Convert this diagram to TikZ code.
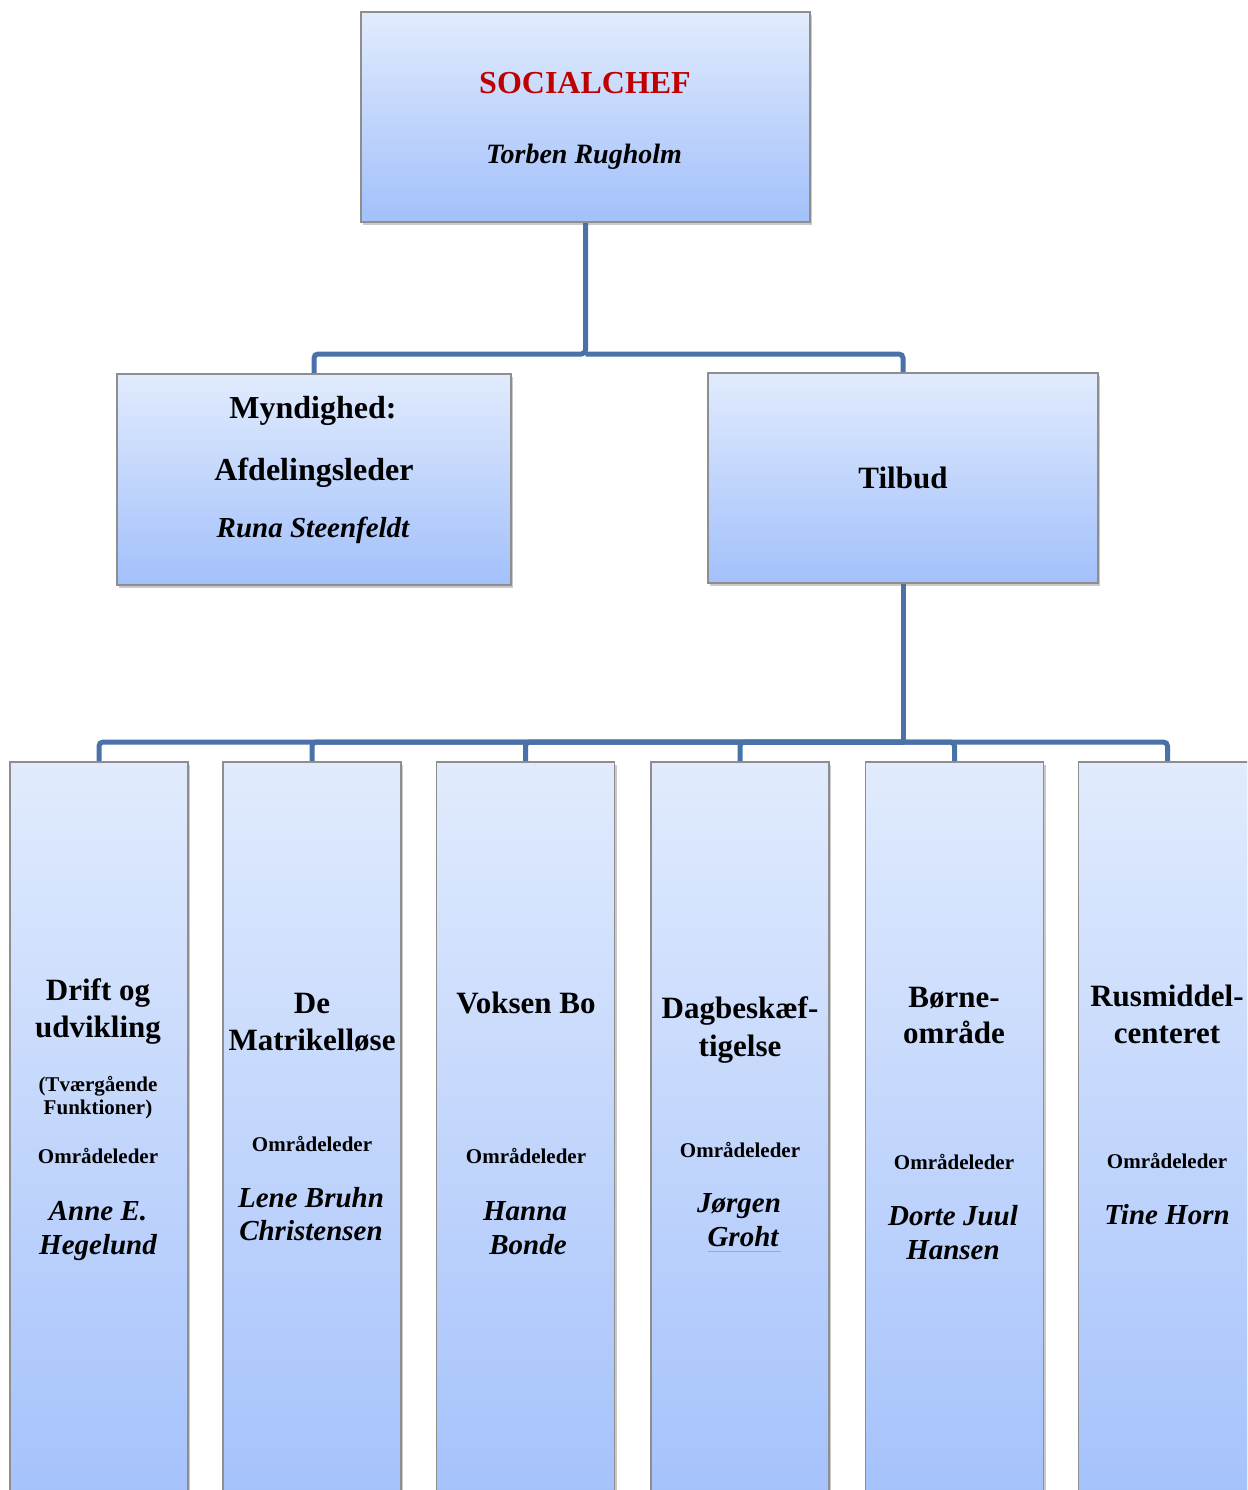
\documentclass[tikz,border=0pt]{standalone}
\usepackage{fontspec}
\setmainfont{Liberation Serif}
\usetikzlibrary{shadows}
\definecolor{linec}{HTML}{4A72A8}
\definecolor{boxtop}{HTML}{E1EBFD}
\definecolor{boxbot}{HTML}{A2C0FB}
\definecolor{boxline}{HTML}{8E8E8E}
\definecolor{chefred}{HTML}{C00000}
\definecolor{spellred}{HTML}{E38C9C}
\begin{document}
\begin{tikzpicture}[x=1pt,y=-1pt,
  orgbox/.style={draw=boxline, line width=1.2pt, top color=boxtop, bottom color=boxbot,
    inner sep=0pt, outer sep=0pt,
    drop shadow={shadow xshift=2pt, shadow yshift=-3pt, opacity=0.35, fill=black!60}},
  conn/.style={draw=linec, line width=5pt, rounded corners=4pt},
  txt/.style={anchor=base, inner sep=0pt, outer sep=0pt},
  tA/.style={txt, font=\fontsize{32}{36}\selectfont\bfseries},
  tB/.style={txt, font=\fontsize{31}{36}\selectfont\bfseries},
  tS/.style={txt, font=\fontsize{21}{24}\selectfont\bfseries},
  tN/.style={txt, font=\fontsize{29}{33}\selectfont\bfseries\itshape},
  tT/.style={txt, font=\fontsize{28}{32}\selectfont\bfseries\itshape},
  anchorbox/.style={inner sep=0pt, outer sep=0pt},
]
\useasboundingbox (0,0) rectangle (1247,1490);
\clip (0,0) rectangle (1247,1490);

% junction points
\coordinate (j1) at (585.5,354);
\coordinate (j2) at (903,742);

% invisible placeholders for connector ends
\node[anchorbox, minimum width=449pt, minimum height=210pt] (chefc) at (585.5,117) {};
\node[anchorbox, minimum width=394pt, minimum height=211pt] (mync) at (314,479.5) {};
\node[anchorbox, minimum width=390pt, minimum height=210pt] (tilc) at (903,478) {};
\foreach \i/\x in {1/99,2/312,3/525.5,4/740,5/954.5,6/1167.5}{
  \node[anchorbox, minimum width=178pt, minimum height=768pt] (b\i c) at (\x,1146) {};
}
\draw[conn] (chefc.south) -- (j1) -| (mync.north);
\draw[conn] (j1) -| (tilc.north);
\draw[conn] (tilc.south) -- (j2);
\foreach \i in {1,...,6}{
  \draw[conn] (j2) -| (b\i c.north);
}

% visible boxes
\node[orgbox, minimum width=449pt, minimum height=210pt] (chef) at (585.5,117) {};
\node[orgbox, minimum width=394pt, minimum height=211pt] (myn) at (314,479.5) {};
\node[orgbox, minimum width=390pt, minimum height=210pt] (til) at (903,478) {};
\foreach \i/\x in {1/99,2/312,3/525.5,4/740,5/954.5,6/1167.5}{
  \node[orgbox, minimum width=178pt, minimum height=768pt] (b\i) at (\x,1146) {};
}

% texts top
\node[tA, text=chefred] (chef1) at (585,94) {SOCIALCHEF};
\node[tT] (chef2) at (584,164) {Torben Rugholm};
\node[tA] (myn1) at (313,418) {Myndighed:};
\node[tA] (myn2) at (314,480) {Afdelingsleder};
\node[tN] (myn3) at (313,537) {Runa Steenfeldt};
\node[tB] (til1) at (903,488) {Tilbud};

% box 1
\node[tB] (b1a) at (98,1000) {Drift og};
\node[tB] (b1b) at (98,1037) {udvikling};
\node[tS] (b1c) at (98,1091) {(Tværgående};
\node[tS] (b1d) at (98,1114) {Funktioner)};
\node[tS] (b1e) at (98,1163) {Områdeleder};
\node[tN] (b1f) at (98,1220) {Anne E.};
\node[tN] (b1g) at (98,1254) {Hegelund};

% box 2
\node[tB] (b2a) at (312,1013) {De};
\node[tB] (b2b) at (312,1050) {Matrikelløse};
\node[tS] (b2c) at (312,1151) {Områdeleder};
\node[tN] (b2d) at (311,1207) {Lene Bruhn};
\node[tN] (b2e) at (311,1240) {Christensen};

% box 3
\node[tB] (b3a) at (526,1013) {Voksen Bo};
\node[tS] (b3b) at (526,1163) {Områdeleder};
\node[tN] (b3c) at (525,1220) {Hanna};
\node[tN] (b3d) at (528,1254) {Bonde};

% box 4
\node[tB] (b4a) at (740,1018) {Dagbeskæf-};
\node[tB] (b4b) at (740,1056) {tigelse};
\node[tS] (b4c) at (740,1157) {Områdeleder};
\node[tN] (b4d) at (739,1212) {Jørgen};
\node[tN] (b4e) at (743,1246) {Groht};
\draw[spellred, line width=1pt] (708,1251) -- (781,1251);

% box 5
\node[tB] (b5a) at (954,1007) {Børne-};
\node[tB] (b5b) at (954,1043) {område};
\node[tS] (b5c) at (954,1169) {Områdeleder};
\node[tN] (b5d) at (953,1225) {Dorte Juul};
\node[tN] (b5e) at (953,1259) {Hansen};

% box 6
\node[tB] (b6a) at (1167,1006) {Rusmiddel-};
\node[tB] (b6b) at (1167,1043) {centeret};
\node[tS] (b6c) at (1167,1168) {Områdeleder};
\node[tN] (b6d) at (1167,1224) {Tine Horn};
\end{tikzpicture}
\end{document}
